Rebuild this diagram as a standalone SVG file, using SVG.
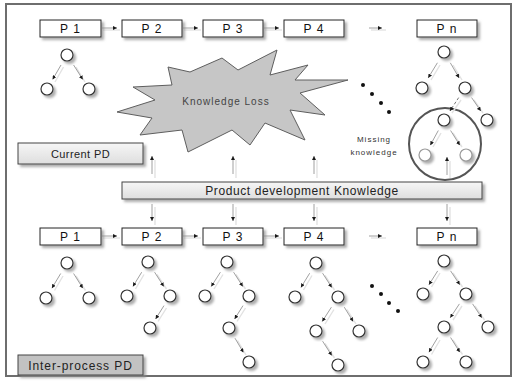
<svg xmlns="http://www.w3.org/2000/svg" width="515" height="387" viewBox="0 0 515 387">
  <defs>
    <filter id="sh" x="-30%" y="-30%" width="170%" height="170%">
      <feDropShadow dx="2.5" dy="2.5" stdDeviation="1" flood-color="#8a8a8a" flood-opacity="0.7"/>
    </filter>
    <linearGradient id="lightFill" x1="0" y1="0" x2="0" y2="1">
      <stop offset="0" stop-color="#f6f6f6"/>
      <stop offset="1" stop-color="#dedede"/>
    </linearGradient>
    <marker id="ah" viewBox="0 0 4 4" refX="4" refY="2" markerWidth="4" markerHeight="4" markerUnits="userSpaceOnUse" orient="auto">
      <path d="M0,0 L4,2 L0,4 z" fill="#1a1a1a"/>
    </marker>
  </defs>
  <style>
    .proc rect { fill: #ffffff; stroke: #222; stroke-width: 1; filter: url(#sh); }
    .lbl { font-family: "Liberation Sans", Arial, sans-serif; font-size: 12px; fill: #111; text-anchor: middle; letter-spacing: 1px; }
    .node { fill: #ffffff; stroke: #333; stroke-width: 1.2; filter: url(#sh); }
    .ghost { fill: #ffffff; stroke: #9a9a9a; stroke-width: 1.2; filter: url(#sh); }
    .arrows line.s { stroke: #e2e2e2; stroke-width: 1.4; }
    .arrows line.m { stroke: #888; stroke-width: 0.8; marker-end: url(#ah); }
    .arrows line.d { stroke: #777; stroke-width: 1; stroke-dasharray: 3 2; marker-end: url(#ah); }
    .dot { fill: #111; }
  </style>

  <!-- outer frame -->
  <rect x="6" y="4" width="505" height="372" fill="#ffffff" stroke="#6e6e6e" stroke-width="2"/>

  <!-- knowledge loss starburst -->
  <g id="knowledge-loss">
    <polygon points="117,112 155,100 133,87 172,85 168,67 190,72 222,58 238,70 277,50 270,75 308,65 295,80 348,80 300,93 325,115 290,110 305,140 265,123 250,145 232,130 188,152 182,130 140,135 152,118" fill="#c6c6c6" stroke="#5e5e5e" stroke-width="1"/>
    <text x="226" y="105" font-family="Liberation Sans, Arial, sans-serif" font-size="10" fill="#444" text-anchor="middle" letter-spacing="1">Knowledge Loss</text>
  </g>

  <!-- missing knowledge ring -->
  <g id="missing-ring">
    <circle cx="445" cy="144" r="36" fill="none" stroke="#555" stroke-width="2"/>
  </g>
  <g id="missing-label">
    <text x="374" y="142" font-family="Liberation Sans, Arial, sans-serif" font-size="8" fill="#333" text-anchor="middle" letter-spacing="1">Missing</text>
    <text x="374" y="155" font-family="Liberation Sans, Arial, sans-serif" font-size="8" fill="#333" text-anchor="middle" letter-spacing="1">knowledge</text>
  </g>

  <!-- ellipsis dots -->
  <g id="dots-top">
    <circle class="dot" cx="363" cy="85" r="2"/>
    <circle class="dot" cx="372" cy="94" r="2"/>
    <circle class="dot" cx="381" cy="103" r="2"/>
    <circle class="dot" cx="389" cy="112" r="2"/>
  </g>
  <g id="dots-bottom">
    <circle class="dot" cx="372" cy="286" r="2"/>
    <circle class="dot" cx="381" cy="294" r="2"/>
    <circle class="dot" cx="389" cy="303" r="2"/>
    <circle class="dot" cx="398" cy="311" r="2"/>
  </g>

  <!-- connectors -->
  <g id="connectors" class="arrows">
    <!-- top process chain -->
    <line class="s" x1="103" y1="30" x2="120" y2="30"/><line class="m" x1="102" y1="28" x2="117" y2="28"/>
    <line class="s" x1="184" y1="30" x2="201" y2="30"/><line class="m" x1="183" y1="28" x2="198" y2="28"/>
    <line class="s" x1="265" y1="30" x2="282" y2="30"/><line class="m" x1="264" y1="28" x2="279" y2="28"/>
    <line class="s" x1="371" y1="30" x2="386" y2="30"/><line class="m" x1="369" y1="28" x2="382" y2="28"/>
    <!-- bottom process chain -->
    <line class="s" x1="103" y1="238" x2="120" y2="238"/><line class="m" x1="102" y1="236" x2="117" y2="236"/>
    <line class="s" x1="184" y1="238" x2="201" y2="238"/><line class="m" x1="183" y1="236" x2="198" y2="236"/>
    <line class="s" x1="265" y1="238" x2="282" y2="238"/><line class="m" x1="264" y1="236" x2="279" y2="236"/>
    <line class="s" x1="371" y1="238" x2="386" y2="238"/><line class="m" x1="369" y1="236" x2="382" y2="236"/>
    <!-- knowledge up -->
    <line class="s" x1="155" y1="178" x2="155" y2="160"/><line class="m" x1="152" y1="174" x2="152" y2="156"/>
    <line class="s" x1="236" y1="178" x2="236" y2="160"/><line class="m" x1="233" y1="174" x2="233" y2="156"/>
    <line class="s" x1="317" y1="178" x2="317" y2="160"/><line class="m" x1="314" y1="174" x2="314" y2="156"/>
    <line class="s" x1="450" y1="178" x2="450" y2="161"/><line class="m" x1="447" y1="175" x2="447" y2="157"/>
    <!-- knowledge down -->
    <line class="s" x1="155" y1="207" x2="155" y2="225"/><line class="m" x1="152" y1="204" x2="152" y2="221"/>
    <line class="s" x1="236" y1="207" x2="236" y2="225"/><line class="m" x1="233" y1="204" x2="233" y2="221"/>
    <line class="s" x1="317" y1="207" x2="317" y2="225"/><line class="m" x1="314" y1="204" x2="314" y2="221"/>
    <line class="s" x1="450" y1="207" x2="450" y2="225"/><line class="m" x1="447" y1="204" x2="447" y2="221"/>

    <!-- top P1 tree -->
    <line class="s" x1="63.5" y1="67" x2="55" y2="82"/><line class="m" x1="61" y1="65" x2="52.6" y2="79.5"/>
    <line class="s" x1="76" y1="67" x2="85" y2="82"/><line class="m" x1="73.6" y1="65" x2="82.8" y2="79.5"/>
    <!-- top Pn tree -->
    <line class="s" x1="440" y1="65" x2="431" y2="80"/><line class="m" x1="437.4" y1="62.8" x2="428.2" y2="77.9"/>
    <line class="s" x1="453" y1="65" x2="462" y2="80"/><line class="m" x1="450.3" y1="62.8" x2="459.1" y2="77.9"/>
    <line class="s" x1="474" y1="100" x2="483" y2="113"/><line class="m" x1="471.6" y1="97.6" x2="480.8" y2="111"/>
    <line class="s" x1="461" y1="100" x2="452" y2="113"/><line class="d" x1="458.7" y1="97.6" x2="449.9" y2="111"/>
    <line class="s" x1="441" y1="133" x2="433" y2="147"/><line class="m" x1="438.3" y1="130.5" x2="430.3" y2="145.2"/>
    <line class="s" x1="453" y1="133" x2="462" y2="147"/><line class="m" x1="450.6" y1="130.5" x2="459.8" y2="145.2"/>

    <!-- bottom P1 tree -->
    <line class="s" x1="63" y1="276" x2="54.5" y2="290.5"/><line class="m" x1="60.7" y1="273.5" x2="51.9" y2="288.2"/>
    <line class="s" x1="76" y1="276" x2="85.5" y2="290.5"/><line class="m" x1="73.6" y1="273.5" x2="82.8" y2="288.2"/>
    <!-- bottom P2 tree -->
    <line class="s" x1="144" y1="274.5" x2="135.5" y2="289"/><line class="m" x1="141.7" y1="272.2" x2="132.9" y2="286.5"/>
    <line class="s" x1="157" y1="274.5" x2="166.5" y2="289"/><line class="m" x1="154.6" y1="272.2" x2="163.8" y2="286.5"/>
    <line class="s" x1="166.5" y1="308" x2="158" y2="321.5"/><line class="m" x1="164" y1="305.6" x2="155.6" y2="319"/>
    <!-- bottom P3 tree -->
    <line class="s" x1="223" y1="274.5" x2="214" y2="289"/><line class="m" x1="220.4" y1="272.2" x2="211.2" y2="286.5"/>
    <line class="s" x1="236" y1="274.5" x2="245.5" y2="289"/><line class="m" x1="233.6" y1="272.2" x2="242.8" y2="286.5"/>
    <line class="s" x1="245.5" y1="308" x2="237" y2="321.5"/><line class="m" x1="243" y1="305.6" x2="234.6" y2="319"/>
    <line class="s" x1="237.5" y1="340.5" x2="246" y2="355"/><line class="m" x1="235" y1="338.2" x2="243.4" y2="352.5"/>
    <!-- bottom P4 tree -->
    <line class="s" x1="312" y1="275.5" x2="303.5" y2="290"/><line class="m" x1="309.7" y1="273.2" x2="300.9" y2="287.5"/>
    <line class="s" x1="325" y1="275.5" x2="334.5" y2="290"/><line class="m" x1="322.6" y1="273.2" x2="331.8" y2="287.5"/>
    <line class="s" x1="334" y1="309.5" x2="325" y2="324"/><line class="m" x1="331.4" y1="307.2" x2="322.2" y2="321.5"/>
    <line class="s" x1="347" y1="309.5" x2="356" y2="324"/><line class="m" x1="344.3" y1="307.2" x2="353.1" y2="321.5"/>
    <line class="s" x1="325" y1="343.5" x2="334.5" y2="358"/><line class="m" x1="322.6" y1="341.2" x2="331.8" y2="355.5"/>
    <!-- bottom Pn tree -->
    <line class="s" x1="440" y1="273" x2="431.5" y2="287"/><line class="m" x1="437.7" y1="270.9" x2="428.9" y2="284.8"/>
    <line class="s" x1="453" y1="273" x2="462.5" y2="287"/><line class="m" x1="450.6" y1="270.9" x2="459.8" y2="284.8"/>
    <line class="s" x1="462" y1="306" x2="453" y2="320"/><line class="m" x1="459.4" y1="303.9" x2="450.2" y2="317.8"/>
    <line class="s" x1="475" y1="306" x2="484.5" y2="320"/><line class="m" x1="472.6" y1="303.9" x2="481.8" y2="317.8"/>
    <line class="s" x1="440" y1="340" x2="431.5" y2="354.5"/><line class="m" x1="437.7" y1="337.5" x2="428.9" y2="352.2"/>
    <line class="s" x1="453" y1="340" x2="462.5" y2="354.5"/><line class="m" x1="450.6" y1="337.5" x2="459.8" y2="352.2"/>
  </g>

  <!-- current process row -->
  <g id="top-p1" class="proc"><rect x="40" y="20" width="61" height="17"/><text class="lbl" x="70.5" y="33">P 1</text></g>
  <g id="top-p2" class="proc"><rect x="122" y="20" width="60" height="17"/><text class="lbl" x="152" y="33">P 2</text></g>
  <g id="top-p3" class="proc"><rect x="203" y="20" width="60" height="17"/><text class="lbl" x="233" y="33">P 3</text></g>
  <g id="top-p4" class="proc"><rect x="284" y="20" width="60" height="17"/><text class="lbl" x="314" y="33">P 4</text></g>
  <g id="top-pn" class="proc"><rect x="417" y="20" width="60" height="17"/><text class="lbl" x="447" y="33">P n</text></g>

  <!-- inter-process row -->
  <g id="bot-p1" class="proc"><rect x="40" y="228" width="61" height="17"/><text class="lbl" x="70.5" y="241">P 1</text></g>
  <g id="bot-p2" class="proc"><rect x="122" y="228" width="60" height="17"/><text class="lbl" x="152" y="241">P 2</text></g>
  <g id="bot-p3" class="proc"><rect x="203" y="228" width="60" height="17"/><text class="lbl" x="233" y="241">P 3</text></g>
  <g id="bot-p4" class="proc"><rect x="284" y="228" width="60" height="17"/><text class="lbl" x="314" y="241">P 4</text></g>
  <g id="bot-pn" class="proc"><rect x="417" y="228" width="60" height="17"/><text class="lbl" x="447" y="241">P n</text></g>

  <!-- labels -->
  <g id="current-pd">
    <rect x="18" y="143" width="125" height="21" fill="url(#lightFill)" stroke="#444" stroke-width="1" filter="url(#sh)"/>
    <text x="80.5" y="158" font-family="Liberation Sans, Arial, sans-serif" font-size="11" fill="#222" text-anchor="middle" letter-spacing="0.4">Current PD</text>
  </g>
  <g id="pd-knowledge">
    <rect x="122" y="182" width="360" height="17" fill="url(#lightFill)" stroke="#444" stroke-width="1" filter="url(#sh)"/>
    <text x="302" y="195" font-family="Liberation Sans, Arial, sans-serif" font-size="12" fill="#222" text-anchor="middle" letter-spacing="0.6">Product development Knowledge</text>
  </g>
  <g id="interprocess-pd">
    <rect x="18" y="355" width="125" height="20" fill="#c2c2c2" stroke="#444" stroke-width="1" filter="url(#sh)"/>
    <text x="80.5" y="370" font-family="Liberation Sans, Arial, sans-serif" font-size="12" fill="#222" text-anchor="middle" letter-spacing="0.9">Inter-process PD</text>
  </g>

  <!-- tree nodes, current row -->
  <g id="t1-nodes">
    <circle class="node" cx="67" cy="55" r="6"/>
    <circle class="node" cx="47" cy="89" r="6"/>
    <circle class="node" cx="89" cy="89" r="6"/>
  </g>
  <g id="tn-nodes">
    <circle class="node" cx="444" cy="52" r="6"/>
    <circle class="node" cx="422" cy="88" r="6"/>
    <circle class="node" cx="465" cy="88" r="6"/>
    <circle class="node" cx="487" cy="120" r="6"/>
    <circle class="node" cx="444" cy="120" r="6"/>
    <circle class="ghost" cx="425" cy="155" r="6"/>
    <circle class="ghost" cx="466" cy="155" r="6"/>
  </g>

  <!-- tree nodes, inter-process row -->
  <g id="b1-nodes">
    <circle class="node" cx="67" cy="263" r="6"/>
    <circle class="node" cx="46" cy="298" r="6"/>
    <circle class="node" cx="89" cy="298" r="6"/>
  </g>
  <g id="b2-nodes">
    <circle class="node" cx="148" cy="262" r="6"/>
    <circle class="node" cx="127" cy="296" r="6"/>
    <circle class="node" cx="170" cy="296" r="6"/>
    <circle class="node" cx="150" cy="328" r="6"/>
  </g>
  <g id="b3-nodes">
    <circle class="node" cx="227" cy="262" r="6"/>
    <circle class="node" cx="205" cy="296" r="6"/>
    <circle class="node" cx="249" cy="296" r="6"/>
    <circle class="node" cx="229" cy="328" r="6"/>
    <circle class="node" cx="249" cy="362" r="6"/>
  </g>
  <g id="b4-nodes">
    <circle class="node" cx="316" cy="263" r="6"/>
    <circle class="node" cx="295" cy="297" r="6"/>
    <circle class="node" cx="338" cy="297" r="6"/>
    <circle class="node" cx="316" cy="331" r="6"/>
    <circle class="node" cx="359" cy="331" r="6"/>
    <circle class="node" cx="338" cy="365" r="6"/>
  </g>
  <g id="bn-nodes">
    <circle class="node" cx="444" cy="261" r="6"/>
    <circle class="node" cx="423" cy="294" r="6"/>
    <circle class="node" cx="466" cy="294" r="6"/>
    <circle class="node" cx="444" cy="327" r="6"/>
    <circle class="node" cx="488" cy="327" r="6"/>
    <circle class="node" cx="423" cy="362" r="6"/>
    <circle class="node" cx="466" cy="362" r="6"/>
  </g>
</svg>
